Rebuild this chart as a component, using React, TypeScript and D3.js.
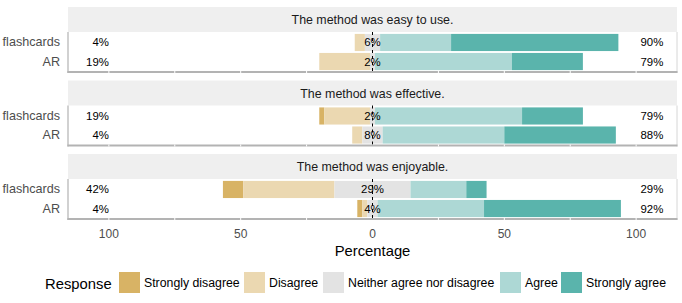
import React from "react";
import * as d3 from "d3";

// ---------- data ----------
const responses = [
  "Strongly disagree",
  "Disagree",
  "Neither agree nor disagree",
  "Agree",
  "Strongly agree",
];
const responseColors = ["#d8b365", "#ebd8b1", "#e3e3e3", "#add8d5", "#5ab4ac"];
const questions = [
  "The method was easy to use.",
  "The method was effective.",
  "The method was enjoyable.",
];
const groups = ["flashcards", "AR"];

// percentages per response level (SD, D, N, A, SA)
const easyFlashcards = [0, 3.85, 5.77, 26.92, 63.46];
const easyAR = [0, 19.23, 1.92, 51.92, 26.92];
const effectiveFlashcards = [1.92, 17.31, 1.92, 55.77, 23.08];
const effectiveAR = [0, 3.85, 7.69, 46.15, 42.31];
const enjoyableFlashcards = [7.69, 34.62, 28.85, 21.15, 7.69];
const enjoyableAR = [1.92, 1.92, 3.85, 40.38, 51.92];

const tickValues = [-100, -50, 0, 50, 100];
const gridValues = [-100, -75, -50, -25, 25, 50, 75, 100];

const panelData = [
  [easyFlashcards, easyAR],
  [effectiveFlashcards, effectiveAR],
  [enjoyableFlashcards, enjoyableAR],
];

// ---------- layout ----------
const W = 682;
const H = 303;
const panelLeft = 68;
const panelRight = 677;
const stripTops = [7, 80.5, 154];
const stripH = 25;
const panelH = 40;
const legendKeyX = [119, 244, 323, 500, 561];
const FONT = "'Liberation Sans', Arial, sans-serif";

const x = d3.scaleLinear().domain([-115.5, 115.5]).range([panelLeft, panelRight]);

export default function App() {
  return (
    <svg
      width={W}
      height={H}
      style={{ position: "absolute", left: 0, top: 0, background: "#fff" }}
      fontFamily={FONT}
    >
      {questions.map((q, pi) => {
        const sTop = stripTops[pi];
        const pTop = sTop + stripH;
        const pBottom = pTop + panelH;
        const y = d3
          .scaleLinear()
          .domain([0.45, 2.55])
          .range([pBottom, pTop]);
        const bandH = (y(0) - y(0.9));
        return (
          <g key={q}>
            <rect x={panelLeft} y={sTop} width={panelRight - panelLeft} height={stripH} fill="#efefef" />
            <text
              x={(panelLeft + panelRight) / 2}
              y={sTop + stripH / 2 + 0.5}
              textAnchor="middle"
              dominantBaseline="central"
              fontSize={12.4}
              fill="#1a1a1a"
            >
              {q}
            </text>
            {groups.map((g, gi) => {
              const vals = panelData[pi][gi];
              const pos = gi === 0 ? 2 : 1;
              const cy = y(pos);
              const low = vals[0] + vals[1];
              const neutral = vals[2];
              const high = vals[3] + vals[4];
              let start = -(low + neutral / 2);
              const segs = vals.map((v, i) => {
                const s = start;
                start += v;
                return { s, e: s + v, i };
              });
              return (
                <g key={g}>
                  {segs
                    .filter((s) => s.e - s.s > 0)
                    .map((s) => (
                      <rect
                        key={s.i}
                        x={x(s.s)}
                        y={cy - bandH / 2}
                        width={x(s.e) - x(s.s)}
                        height={bandH}
                        fill={responseColors[s.i]}
                      />
                    ))}
                  <text x={panelLeft - 8} y={cy} textAnchor="end" dominantBaseline="central" fontSize={12.6} fill="#4d4d4d">
                    {g}
                  </text>
                  <text x={x(-100)} y={cy} textAnchor="end" dominantBaseline="central" fontSize={11.4} fill="#000">
                    {`${Math.round(low)}%`}
                  </text>
                  <text x={x(0)} y={cy} textAnchor="middle" dominantBaseline="central" fontSize={11.4} fill="#000">
                    {`${Math.round(neutral)}%`}
                  </text>
                  <text x={x(100) + 4.4} y={cy} textAnchor="start" dominantBaseline="central" fontSize={11.4} fill="#000">
                    {`${Math.round(high)}%`}
                  </text>
                </g>
              );
            })}
            <line x1={x(0)} x2={x(0)} y1={pTop} y2={pBottom} stroke="#000" strokeWidth={1} strokeDasharray="3,3" />
            <line x1={panelLeft} x2={panelLeft} y1={pTop} y2={pBottom + 1} stroke="#b3b3b3" strokeWidth={1.2} />
            <line x1={panelRight} x2={panelRight} y1={pTop} y2={pBottom + 1} stroke="#d6d6d6" strokeWidth={1} />
            <line x1={panelLeft - 0.6} x2={panelRight + 0.5} y1={pBottom} y2={pBottom} stroke="#b3b3b3" strokeWidth={2} />
            {gridValues.map((v) => (
              <line key={v} x1={x(v)} x2={x(v)} y1={pBottom - 1} y2={pBottom + 1} stroke="#fff" strokeWidth={1} />
            ))}
          </g>
        );
      })}
      {tickValues.map((v) => (
        <text key={v} x={x(v)} y={233.7} textAnchor="middle" dominantBaseline="central" fontSize={12} fill="#4d4d4d">
          {Math.abs(v)}
        </text>
      ))}
      <text x={x(0)} y={256} textAnchor="middle" fontSize={14.8} fill="#000">
        Percentage
      </text>
      <text x={45} y={288.5} fontSize={14.8} fill="#000">
        Response
      </text>
      {responses.map((r, i) => (
        <g key={r}>
          <rect x={legendKeyX[i]} y={272} width={21} height={21} fill={responseColors[i]} />
          <text x={legendKeyX[i] + 25} y={282.8} dominantBaseline="central" fontSize={12.3} fill="#000">
            {r}
          </text>
        </g>
      ))}
    </svg>
  );
}
